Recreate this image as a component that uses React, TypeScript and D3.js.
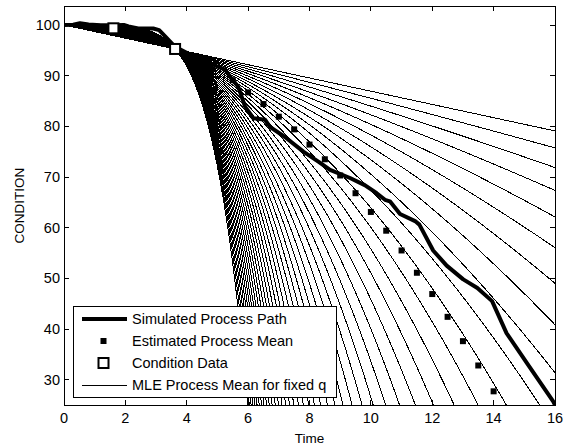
import * as React from "react";
import * as d3 from "d3";

const W = 565;
const H = 445;
const plot = { left: 64, right: 555, top: 6, bottom: 405 };

const xTicks = [0, 2, 4, 6, 8, 10, 12, 14, 16];
const yTicks = [30, 40, 50, 60, 70, 80, 90, 100];

// observed condition data
const conditionTimes = [1.61, 3.62];
const conditionValues = [99.35, 95.27];

// shape exponents q of the MLE mean curves
const qValues = [
  1.0, 1.1, 1.2, 1.3, 1.4, 1.5, 1.6, 1.7, 1.8, 1.9, 2.0, 2.1, 2.2, 2.3, 2.4, 2.5,
  2.6, 2.7, 2.8, 2.9, 3.0, 3.1, 3.2, 3.3, 3.4, 3.5, 3.6, 3.7, 3.8, 3.9, 4.0, 4.1,
  4.2, 4.3, 4.4, 4.5, 4.6, 4.7, 4.8, 4.9, 5.0, 5.1, 5.2, 5.3, 5.4, 5.5,
];

// estimated process mean
const meanTimes = [5.5, 6, 6.5, 7, 7.5, 8, 8.5, 9, 9.5, 10, 10.5, 11, 11.5, 12, 12.5, 13, 13.5, 14];
const meanValues = [
  89.1, 86.7, 84.4, 81.9, 79.4, 76.4, 73.5, 70.3, 66.8, 63.1, 59.4, 55.5, 51.1,
  46.9, 42.4, 37.6, 32.8, 27.7,
];

// simulated process path
const pathTimes = [
  0, 0.3, 0.52, 0.8, 1.2, 1.6, 1.95, 2.1, 2.42, 2.91, 3.1, 3.35, 3.62, 4.2, 4.8, 5.25, 5.46, 5.68, 5.9,
  6.17, 6.55, 6.71, 7.2, 7.8, 8.3, 8.67, 9.32, 9.8, 10.19, 10.46, 10.62, 10.95, 11.44, 11.58, 12.03,
  12.47, 13.01, 13.47, 13.95, 14.42, 15.08, 15.94, 16,
];
const pathValues = [
  100, 100.05, 100.35, 100.1, 99.95, 99.95, 100.0, 99.7, 99.3, 99.3, 99.0, 97.4, 95.7, 93.9, 92.3, 91.2,
  89.4, 87.8, 83.9, 81.6, 81.3, 79.9, 77.9, 75.0, 73.0, 71.4, 69.8, 68.4, 66.8, 65.5, 65.2, 62.7, 61.3,
  60.6, 55.5, 52.5, 49.8, 48.1, 45.5, 39.2, 33.3, 25.7, 25,
];

const legendItems = [
  "Simulated Process Path",
  "Estimated Process Mean",
  "Condition Data",
  "MLE Process Mean for fixed q",
];

const font = "'Liberation Sans', Arial, Helvetica, sans-serif";

export default function App() {
  const x = d3.scaleLinear().domain([0, 16]).range([plot.left, plot.right]);
  const y = d3.scaleLinear().domain([25, 103.75]).range([plot.bottom, plot.top]);

  // MLE mean for fixed q passes through the last observation
  const t0 = conditionTimes[conditionTimes.length - 1];
  const drop = 100 - conditionValues[conditionValues.length - 1];
  const grid = d3.range(0, 16.0001, 0.02);

  const line = d3
    .line<[number, number]>()
    .x((d) => x(d[0]))
    .y((d) => y(d[1]));

  const curves = qValues.map((q) =>
    line(grid.map((t) => [t, 100 - drop * Math.pow(t / t0, q)] as [number, number]))
  );

  const simPath = line(pathTimes.map((t, i) => [t, pathValues[i]] as [number, number]));

  const tick = 5;
  const lg = { x: 73, y: 306, w: 263, h: 91 };
  const rowY = [319, 341, 363, 385];

  return (
    <svg width={W} height={H} style={{ position: "absolute", left: 0, top: 0, background: "#fff" }}>
      <defs>
        <clipPath id="plotClip">
          <rect x={plot.left} y={plot.top} width={plot.right - plot.left} height={plot.bottom - plot.top} />
        </clipPath>
      </defs>
      <rect x={0} y={0} width={W} height={H} fill="#fff" />

      <g clipPath="url(#plotClip)">
        {curves.map((d, i) => (
          <path key={i} d={d || ""} fill="none" stroke="#000" strokeWidth={1} shapeRendering="crispEdges" />
        ))}
        <path d={simPath || ""} fill="none" stroke="#000" strokeWidth={4} strokeLinejoin="round" />
        {meanTimes.map((t, i) => (
          <rect key={i} x={x(t) - 3} y={y(meanValues[i]) - 3} width={6} height={6} fill="#000" />
        ))}
        {conditionTimes.map((t, i) => (
          <rect
            key={i}
            x={x(t) - 5}
            y={y(conditionValues[i]) - 5}
            width={10}
            height={10}
            fill="#fff"
            stroke="#000"
            strokeWidth={2}
          />
        ))}
      </g>

      {/* axes box and ticks */}
      <rect
        x={plot.left}
        y={plot.top}
        width={plot.right - plot.left}
        height={plot.bottom - plot.top}
        fill="none"
        stroke="#000"
        strokeWidth={1}
        shapeRendering="crispEdges"
      />
      {xTicks.map((t) => (
        <g key={t} shapeRendering="crispEdges">
          <line x1={x(t)} x2={x(t)} y1={plot.bottom} y2={plot.bottom - tick} stroke="#000" />
          <line x1={x(t)} x2={x(t)} y1={plot.top} y2={plot.top + tick} stroke="#000" />
          <text x={x(t)} y={423} textAnchor="middle" fontFamily={font} fontSize={14.5}>
            {t}
          </text>
        </g>
      ))}
      {yTicks.map((v) => (
        <g key={v} shapeRendering="crispEdges">
          <line x1={plot.left} x2={plot.left + tick} y1={y(v)} y2={y(v)} stroke="#000" />
          <line x1={plot.right} x2={plot.right - tick} y1={y(v)} y2={y(v)} stroke="#000" />
          <text x={plot.left - 4} y={y(v)} dy="0.35em" textAnchor="end" fontFamily={font} fontSize={14.5}>
            {v}
          </text>
        </g>
      ))}
      <text x={(plot.left + plot.right) / 2} y={443} textAnchor="middle" fontFamily={font} fontSize={13.5}>
        Time
      </text>
      <text
        transform={`translate(23.5,${(plot.top + plot.bottom) / 2}) rotate(-90)`}
        textAnchor="middle"
        fontFamily={font}
        fontSize={13.5}
      >
        CONDITION
      </text>

      {/* legend */}
      <rect x={lg.x} y={lg.y} width={lg.w} height={lg.h} fill="#fff" stroke="#000" shapeRendering="crispEdges" />
      <line x1={82} x2={127} y1={rowY[0]} y2={rowY[0]} stroke="#000" strokeWidth={4} />
      <rect x={100.5} y={rowY[1] - 3} width={6} height={6} fill="#000" />
      <rect x={98.5} y={rowY[2] - 5} width={10} height={10} fill="#fff" stroke="#000" strokeWidth={2} />
      <line x1={82} x2={127} y1={rowY[3]} y2={rowY[3]} stroke="#000" strokeWidth={1} shapeRendering="crispEdges" />
      {legendItems.map((s, i) => (
        <text key={s} x={132} y={rowY[i]} dy="0.36em" fontFamily={font} fontSize={14.5}>
          {s}
        </text>
      ))}
    </svg>
  );
}
